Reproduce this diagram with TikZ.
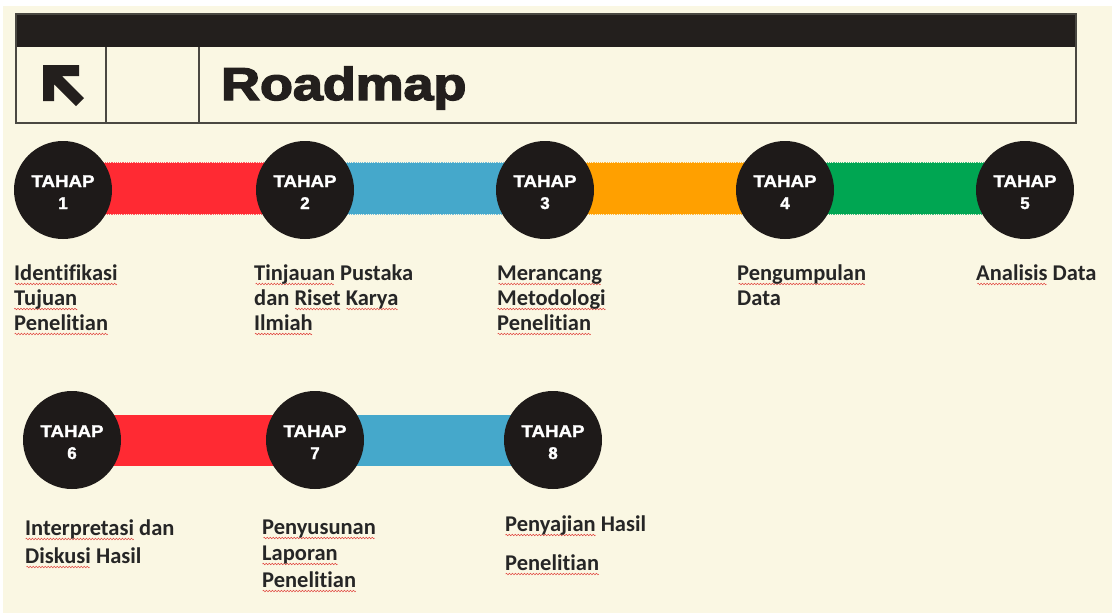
\documentclass[tikz,border=0pt]{standalone}
\usepackage{fontspec}
\usetikzlibrary{calc}
\newfontfamily\heavy[BoldFeatures={FakeBold=1.5}]{Liberation Sans}
\newfontfamily\heavier[BoldFeatures={FakeBold=3}]{Liberation Sans}
\newfontfamily\lblfont[Ligatures={NoCommon}]{Carlito}
\definecolor{cream}{HTML}{FAF7E3}
\definecolor{circ}{HTML}{1E1A19}
\definecolor{hdr}{HTML}{231F1D}
\definecolor{frm}{HTML}{4A4842}
\definecolor{cred}{HTML}{FF2A33}
\definecolor{cblue}{HTML}{45A8CB}
\definecolor{corange}{HTML}{FFA000}
\definecolor{cgreen}{HTML}{00A652}
\definecolor{wavered}{HTML}{E0403A}
\newsavebox\wavebox
\newcommand\spl[1]{\setbox0=\hbox{#1}\leavevmode\rlap{\raisebox{-4pt}[0pt][0pt]{\hbox to\wd0{\cleaders\copy\wavebox\hfill}}}\box0\relax}
\begin{document}
\sbox\wavebox{\begin{pgfpicture}
  \pgfsetbaseline{0pt}
  \pgfpathrectangle{\pgfpoint{0pt}{-1pt}}{\pgfpoint{3pt}{2pt}}
  \pgfusepath{use as bounding box}
  \pgfsetstrokecolor{wavered}
  \pgfsetlinewidth{0.5pt}
  \pgfpathmoveto{\pgfpoint{0pt}{0pt}}
  \pgfpathsine{\pgfpoint{0.75pt}{0.8pt}}
  \pgfpathcosine{\pgfpoint{0.75pt}{-0.8pt}}
  \pgfpathsine{\pgfpoint{0.75pt}{-0.8pt}}
  \pgfpathcosine{\pgfpoint{0.75pt}{0.8pt}}
  \pgfusepath{stroke}
\end{pgfpicture}}%
\begin{tikzpicture}[x=1pt,y=-1pt,
  stage/.style={circle, fill=circ, minimum size=98pt, inner sep=0pt},
  stxt/.style={anchor=base, inner sep=0pt, text=white,
    font=\heavy\bfseries\fontsize{17}{22}\selectfont},
  bar/.style={line width=51pt},
  edge/.style={densely dotted, line width=1.2pt},
  lbl/.style={anchor=base west, inner sep=0pt, text=black!85,
    font=\lblfont\bfseries\fontsize{22.5}{25}\selectfont},
  frame/.style={draw=frm, line width=1.3pt}]
% background
\fill[cream] (0,0) rectangle (1112,613);
\fill[white] (0,0) rectangle (1112,6);
\fill[white] (0,0) rectangle (3,613);
\useasboundingbox (0,0) rectangle (1112,613);
% header
\fill[hdr] (16,14) rectangle (1076,47);
\draw[frame] (16,14) rectangle (1076,123);
\draw[frame] (106,47) -- (106,123);
\draw[frame] (199,47) -- (199,123);
\fill[hdr] (43,65) -- (79,65) -- (79,76) -- (62,76) -- (84,98) -- (76,106)
  -- (54,84) -- (54,101) -- (43,101) -- cycle;
\node[anchor=base west, inner sep=0pt, text=hdr, font=\heavier\bfseries\fontsize{46}{50}\selectfont]
  (title) at (221,100) {\scalebox{1.17}[1]{Roadmap}};
% stage coordinates
\coordinate (p1) at (63,190);
\coordinate (p2) at (305,190);
\coordinate (p3) at (545,190);
\coordinate (p4) at (785,190);
\coordinate (p5) at (1025,190);
\coordinate (p6) at (72,440);
\coordinate (p7) at (315,440);
\coordinate (p8) at (553,440);
% bars
\foreach \a/\b/\c in {p1/p2/cred, p2/p3/cblue, p3/p4/corange, p4/p5/cgreen}{
  \draw[bar, \c] ($(\a)+(0,-1.5)$) -- ($(\b)+(0,-1.5)$);
  \draw[edge, \c!75!white] ($(\a)+(0,-27.5)$) -- ($(\b)+(0,-27.5)$);
  \draw[edge, \c!75!white] ($(\a)+(0,24.5)$) -- ($(\b)+(0,24.5)$);
}
\draw[bar, cred] (p6) -- (p7);
\draw[bar, cblue] (p7) -- (p8);
% circles
\foreach \i in {1,...,8}{
  \node[stage] (c\i) at (p\i) {};
  \node[stxt] (t\i) at ($(c\i.center)+(0,-3)$) {\scalebox{1.1}[1]{TAHAP}};
  \node[stxt] (n\i) at ($(c\i.center)+(0,19)$) {\i};
}
% labels
\foreach \n/\x/\y/\t in {
  a1/14/280/{\spl{Identifikasi}},
  a2/14/305/{\spl{Tujuan}},
  a3/14/330/{\spl{Penelitian}},
  b1/254/280/{\spl{Tinjauan} Pustaka},
  b2/254/305/{dan \spl{Riset} \spl{Karya}},
  b3/254/330/{\spl{Ilmiah}},
  d1/497/280/{\spl{Merancang}},
  d2/497/305/{\spl{Metodologi}},
  d3/497/330/{\spl{Penelitian}},
  e1/737/280/{\spl{Pengumpulan}},
  e2/737/305/{Data},
  f1/976/280/{\spl{Analisis} Data},
  g1/25/535/{\spl{Interpretasi} dan},
  g2/25/563/{\spl{Diskusi} Hasil},
  h1/262/534/{\spl{Penyusunan}},
  h2/262/560/{\spl{Laporan}},
  h3/262/587/{\spl{Penelitian}},
  k1/505/531/{\spl{Penyajian} Hasil},
  k2/505/570/{\spl{Penelitian}}}{
  \node[lbl] (\n) at (\x,\y) {\t};
}
\end{tikzpicture}
\end{document}
